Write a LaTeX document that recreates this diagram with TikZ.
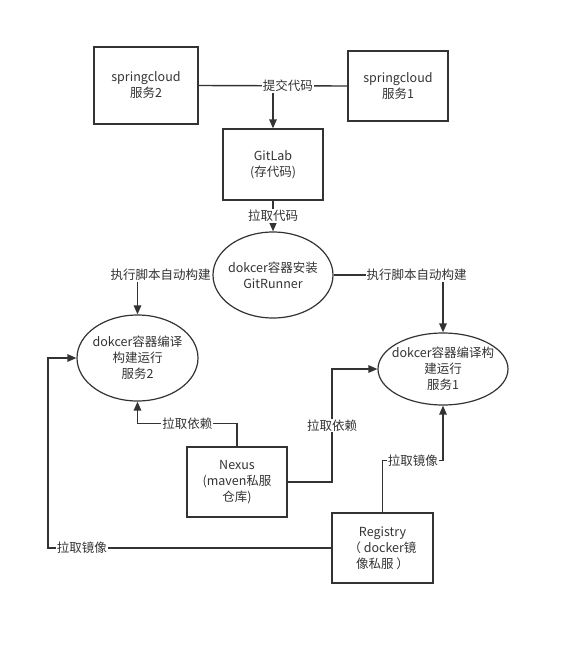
\documentclass[tikz,border=0pt]{standalone}
\usepackage{fontspec}
\setmainfont{Noto Sans CJK SC}
\usetikzlibrary{shapes}
\usetikzlibrary{arrows.meta}
\usetikzlibrary{positioning}
\definecolor{linegray}{RGB}{51,51,51}

\begin{document}
\begin{tikzpicture}[x=1pt,y=-1pt, >={Triangle[length=9pt,width=7.5pt]}, every node/.style={font=\fontsize{12.5}{16}\selectfont, text=linegray}, box/.style={rectangle,draw=linegray,line width=1.4pt,minimum width=100pt,minimum height=70pt,align=center,inner sep=0pt}, oval/.style={ellipse,draw=linegray,line width=1.2pt,inner sep=0pt}, lbl/.style={fill=white,inner sep=1pt}, link/.style={draw=linegray,line width=1.4pt}]
	  \useasboundingbox (0,0) rectangle (570,646);
%	  services and servers
	  \node[box, minimum width=104pt, minimum height=77pt] (svc2) at (146,85.5) {springcloud\\服务2};
	  \node[box] (svc1) at (398,86) {springcloud\\服务1};
	  \node[box, minimum height=71pt] (gitlab) at (273,164.5) {GitLab\\(存代码)};
	  \node[box] (nexus) at (237,482) {Nexus\\(maven私服\\仓库)};
	  \node[box, minimum width=101pt] (registry) at (382.5,548) {Registry\\（ docker镜\\像私服 ）};
%	  runner and build containers
	  \node[oval, minimum width=120pt, minimum height=86pt, label={[align=center]center:{dokcer容器安装\\GitRunner}}] (runner) at (273,275) {};
	  \node[oval, minimum width=121pt, minimum height=86pt, label={[align=center]center:{dokcer容器编译\\构建运行\\服务2}}] (build2) at (137.5,358) {};
	  \node[oval, minimum width=130pt, minimum height=72pt, label={[align=center]center:{dokcer容器编译构\\建运行\\服务1}}] (build1) at (443,369) {};
	  \coordinate (dep1) at (332,369);
	  \coordinate (img2) at (48,358);

	  \draw[link] (svc2.east) -- node[lbl, pos=0.6] (commit) {提交代码} (svc1.west);
	  \draw[link,->] (gitlab.north |- commit.south) -- (gitlab.north);
	  \draw[link,->] (gitlab) -- node[lbl] {拉取代码} (runner);

	  \draw[link,->] (runner.west) -| node[lbl, pos=0, anchor=east] {执行脚本自动构建} (build2.north);
	  \draw[link,->] (runner.east) -| node[lbl, pos=0.38] {执行脚本自动构建} (build1.north);

	  \draw[link,->] (nexus.north) -- ++(0,-23) -| node[lbl, pos=0.25] {拉取依赖} (build2.south);
	  \draw[link,->] (nexus.east) -| node[lbl, pos=0.75] {拉取依赖} (dep1) -- (build1.west);

	  \draw[link,->] (registry.north) -- ++(0,-52) -| node[lbl, pos=0.25] {拉取镜像} (build1.south);
	  \draw[link,->] (registry.west) -| node[lbl, pos=0.44] {拉取镜像} (img2) -- (build2.west);
\end{tikzpicture}
\end{document}
